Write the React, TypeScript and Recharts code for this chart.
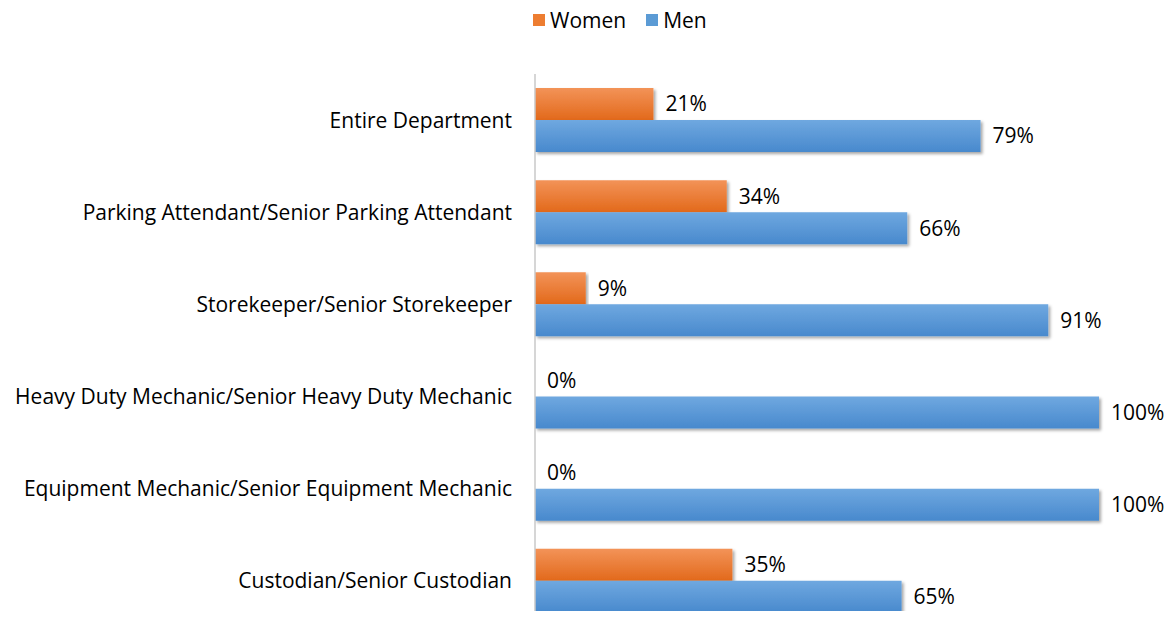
import React from "react";
import {
  BarChart,
  Bar,
  XAxis,
  YAxis,
  LabelList,
} from "recharts";

const categories = [
  "Entire Department",
  "Parking Attendant/Senior Parking Attendant",
  "Storekeeper/Senior Storekeeper",
  "Heavy Duty Mechanic/Senior Heavy Duty Mechanic",
  "Equipment Mechanic/Senior Equipment Mechanic",
  "Custodian/Senior Custodian",
];
const women = [21, 34, 9, 0, 0, 35];
const men = [79, 66, 91, 100, 100, 65];

const data = categories.map((name, i) => ({
  name,
  women: women[i],
  men: men[i],
}));

const FONT = "'Open Sans', 'Noto Sans', sans-serif";

const legendItems = [
  { label: "Women", color: "#ED7D31" },
  { label: "Men", color: "#5B9BD5" },
];

// legend sits above the plot, drawn as plain html so it does not push the plot down
function ChartLegend() {
  return (
    <div
      style={{
        position: "absolute",
        top: 6,
        left: 533,
        display: "flex",
        alignItems: "center",
        fontFamily: FONT,
        fontSize: 21,
        lineHeight: "28px",
      }}
    >
      {legendItems.map((it) => (
        <div key={it.label} style={{ display: "flex", alignItems: "center", marginRight: 20 }}>
          <span
            style={{
              display: "inline-block",
              width: 12,
              height: 12,
              background: it.color,
              marginRight: 5,
            }}
          />
          <span style={{ color: "#000" }}>{it.label}</span>
        </div>
      ))}
    </div>
  );
}

const pct = (v: any) => `${v}%`;
const labelStyle = { fill: "#000", fontSize: 21, fontFamily: FONT };

export default function App() {
  return (
    <div
      style={{
        margin: -8,
        position: "relative",
        width: 1173,
        height: 619,
        overflow: "hidden",
        background: "#fff",
      }}
    >
      <ChartLegend />
      <BarChart
        width={1173}
        height={640}
        data={data}
        layout="vertical"
        barGap={0}
        margin={{ top: 74, right: 74, left: 0, bottom: 13 }}
      >
        <defs>
          <linearGradient id="gWomen" x1="0" y1="0" x2="0" y2="1">
            <stop offset="0%" stopColor="#F39358" />
            <stop offset="100%" stopColor="#E2691B" />
          </linearGradient>
          <linearGradient id="gMen" x1="0" y1="0" x2="0" y2="1">
            <stop offset="0%" stopColor="#6FA8E0" />
            <stop offset="100%" stopColor="#4889CD" />
          </linearGradient>
          <filter id="shadow" x="-5%" y="-20%" width="110%" height="150%">
            <feDropShadow dx="2" dy="2" stdDeviation="1.5" floodColor="#000" floodOpacity="0.35" />
          </filter>
        </defs>
        <XAxis type="number" domain={[0, 100]} hide />
        <YAxis
          type="category"
          dataKey="name"
          width={535}
          tickLine={false}
          tickSize={0}
          tickMargin={23}
          axisLine={{ stroke: "#C8C8C8", strokeWidth: 1.5 }}
          interval={0}
          tick={{ fill: "#000", fontSize: 21, fontFamily: FONT }}
        />
        <Bar
          dataKey="women"
          name="Women"
          fill="url(#gWomen)"
          barSize={32}
          minPointSize={0.01}
          filter="url(#shadow)"
          isAnimationActive={false}
        >
          <LabelList dataKey="women" position="right" offset={12} formatter={pct} style={labelStyle} />
        </Bar>
        <Bar
          dataKey="men"
          name="Men"
          fill="url(#gMen)"
          barSize={32}
          filter="url(#shadow)"
          isAnimationActive={false}
        >
          <LabelList dataKey="men" position="right" offset={12} formatter={pct} style={labelStyle} />
        </Bar>
      </BarChart>
    </div>
  );
}
